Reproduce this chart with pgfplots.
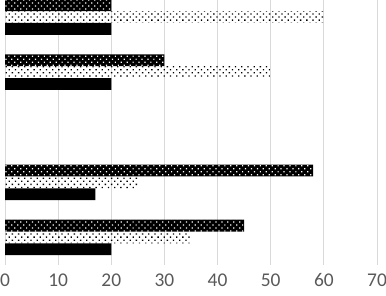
\documentclass[border=0pt]{standalone}
\usepackage{pgfplots}
\pgfplotsset{compat=1.18}
\usepackage{fontspec}
\setmainfont{Carlito}
\usetikzlibrary{patterns.meta}
\definecolor{gridc}{HTML}{D9D9D9}
\definecolor{tickc}{HTML}{595959}
\begin{document}
\begin{tikzpicture}
\begin{axis}[
  name=ax,
  scale only axis,
  width=372bp, height=265bp,
  xbar,
  bar width=0.215,
  xmin=0, xmax=70,
  ymin=0.5, ymax=5.31,
  xtick={0,10,...,70},
  ytick=\empty,
  xmajorgrids,
  major grid style={gridc, line width=1bp},
  axis line style={draw=none},
  major tick length=0pt,
  tick style={draw=none},
  /pgf/number format/assume math mode=true,
  xticklabel style={font=\fontsize{19.5}{21}\selectfont, text=tickc, yshift=-5bp},
]
\addplot[fill=black, draw=none, bar shift=-0.215] coordinates {(20,1) (17,2) (20,4) (20,5)};
\addplot[draw=none, bar shift=0, pattern={Dots[distance=4.4pt, radius=0.95pt, angle=45]}, pattern color=black] coordinates {(35,1) (25,2) (50,4) (60,5)};
\addplot[fill=black, draw=none, bar shift=0.215, postaction={pattern={Dots[distance=4.2pt, radius=0.85pt, angle=45]}, pattern color=white}] coordinates {(45,1) (58,2) (30,4) (20,5)};
\end{axis}
\pgfresetboundingbox
\path ([xshift=-5bp]ax.north west) rectangle ([xshift=9bp, yshift=-31bp]ax.south east);
\end{tikzpicture}
\end{document}
